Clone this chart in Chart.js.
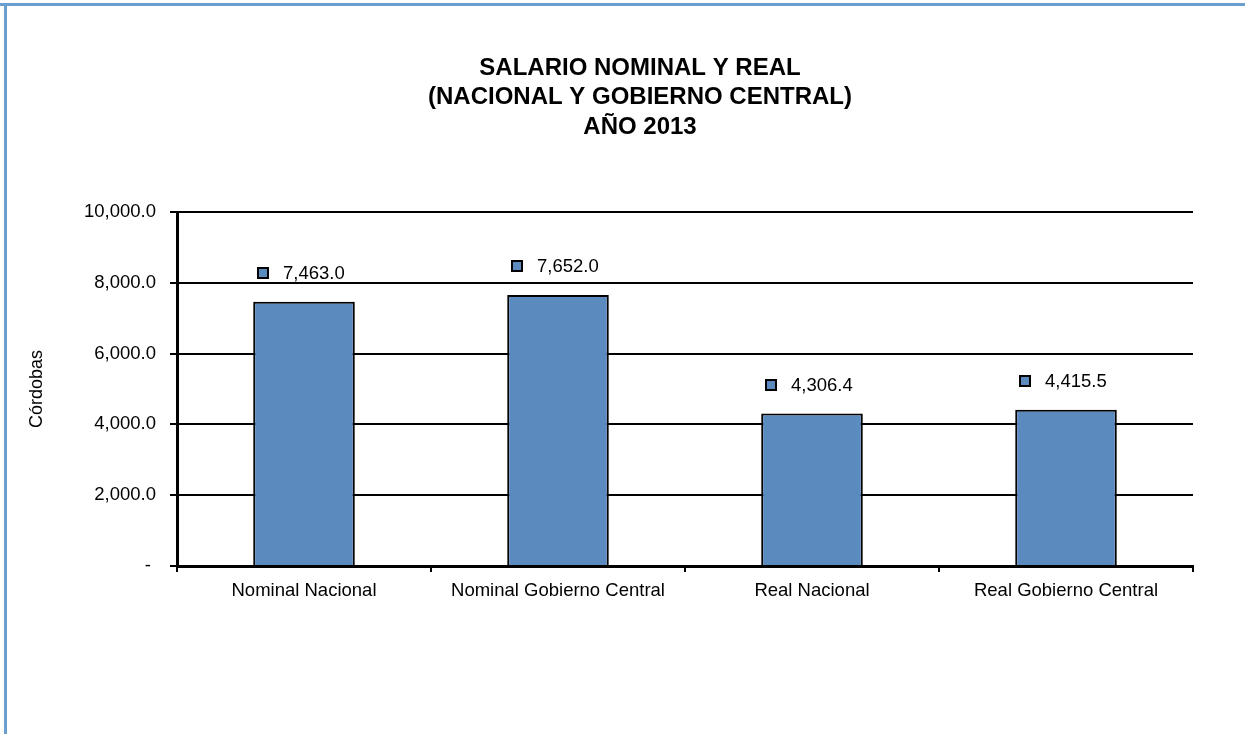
<!DOCTYPE html>
<html>
<head>
<meta charset="utf-8">
<script src="https://cdn.jsdelivr.net/npm/chart.js@4.4.1/dist/chart.umd.min.js"></script>
<style>
  html, body { margin: 0; padding: 0; background: #fff; overflow: hidden; }
  #wrap { width: 1245px; height: 734px; position: relative; }
</style>
</head>
<body>
<div id="wrap"><canvas id="salarioChart"></canvas></div>
<script>
var categories = ['Nominal Nacional', 'Nominal Gobierno Central', 'Real Nacional', 'Real Gobierno Central'];
var salarios = [7463.0, 7652.0, 4306.4, 4415.5];
var titleLines = ['SALARIO NOMINAL Y REAL', '(NACIONAL Y GOBIERNO CENTRAL)', 'AÑO 2013'];
var yTicks = [0, 2000, 4000, 6000, 8000, 10000];

var FONT = "'Liberation Sans', Arial, sans-serif";
var BAR_COLOR = '#5B8BBE';

var fmt = function (v) {
  return v.toLocaleString('en-US', { minimumFractionDigits: 1, maximumFractionDigits: 1 });
};

// frame + title
var frame = {
  id: 'frame',
  beforeDraw: function (chart) {
    var ctx = chart.ctx;
    ctx.save();
    ctx.fillStyle = '#fff';
    ctx.fillRect(0, 0, chart.width, chart.height);
    ctx.fillStyle = '#6A9FCF';
    ctx.fillRect(0, 3, chart.width, 3);
    ctx.fillRect(4, 3, 3, chart.height);
    ctx.restore();
  },
  afterDraw: function (chart) {
    var ctx = chart.ctx;
    ctx.save();
    ctx.fillStyle = '#000';
    ctx.font = 'bold 24px ' + FONT;
    ctx.textAlign = 'center';
    ctx.textBaseline = 'middle';
    titleLines.forEach(function (line, i) {
      ctx.fillText(line, 640, 68 + i * 29.5);
    });
    ctx.restore();
  }
};

// value labels with legend key
var valueLabels = {
  id: 'valueLabels',
  afterDatasetsDraw: function (chart) {
    var ctx = chart.ctx;
    var meta = chart.getDatasetMeta(0);
    ctx.save();
    ctx.font = '18.5px ' + FONT;
    ctx.textBaseline = 'middle';
    ctx.textAlign = 'left';
    meta.data.forEach(function (bar, i) {
      var text = fmt(salarios[i]);
      var tw = ctx.measureText(text).width;
      var groupW = 10 + 15 + tw;
      var x0 = Math.round(bar.x - groupW / 2 - 3);
      var y = Math.round(bar.y - 29);
      ctx.fillStyle = BAR_COLOR;
      ctx.fillRect(x0, y - 5, 10, 10);
      ctx.strokeStyle = '#000';
      ctx.lineWidth = 2;
      ctx.strokeRect(x0, y - 5, 10, 10);
      ctx.fillStyle = '#000';
      ctx.fillText(text, x0 + 25, y + 1);
    });
    ctx.restore();
  }
};

new Chart('salarioChart', {
  type: 'bar',
  data: {
    labels: categories,
    datasets: [{
      data: salarios,
      backgroundColor: BAR_COLOR,
      borderColor: '#000',
      borderWidth: 2,
      borderSkipped: 'bottom',
      categoryPercentage: 0.4,
      barPercentage: 1.0
    }]
  },
  options: {
    responsive: true,
    maintainAspectRatio: false,
    animation: false,
    layout: { padding: { left: 0, top: 212, right: 52, bottom: 0 } },
    plugins: {
      legend: { display: false },
      title: { display: false },
      tooltip: { enabled: false }
    },
    scales: {
      x: {
        grid: {
          offset: true,
          drawOnChartArea: false,
          drawTicks: true,
          tickLength: 6,
          color: '#000',
          lineWidth: 2
        },
        border: { display: true, color: '#000', width: 3 },
        ticks: {
          color: '#000',
          font: { family: FONT, size: 18.5 },
          padding: 8,
          maxRotation: 0
        },
        afterFit: function (scale) { scale.height = 168; }
      },
      y: {
        min: 0,
        max: 10000,
        afterBuildTicks: function (scale) {
          scale.ticks = yTicks.map(function (v) { return { value: v }; });
        },
        grid: {
          color: '#000',
          lineWidth: 2,
          drawTicks: true,
          tickLength: 7
        },
        border: { display: true, color: '#000', width: 3 },
        ticks: {
          color: '#000',
          font: { family: FONT, size: 18.5 },
          padding: 14,
          callback: function (v) { return v === 0 ? '- ' : fmt(v); }
        },
        title: {
          display: true,
          text: 'Córdobas',
          color: '#000',
          font: { family: FONT, size: 18 },
          padding: { top: 26, bottom: 0 }
        },
        afterFit: function (scale) { scale.width = 177; }
      }
    }
  },
  plugins: [frame, valueLabels]
});
</script>
</body>
</html>
